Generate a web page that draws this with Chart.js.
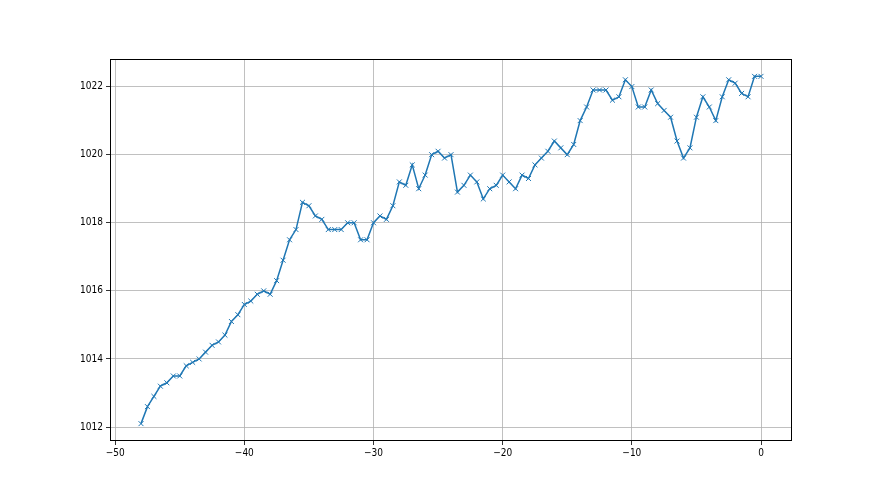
<!DOCTYPE html>
<html>
<head>
<meta charset="utf-8">
<script src="https://cdn.jsdelivr.net/npm/chart.js@4/dist/chart.umd.min.js"></script>
<style>
  html, body { margin: 0; padding: 0; background: #fff; }
  #canvas { display: block; }
</style>
</head>
<body>
<canvas id="canvas" width="880" height="495"></canvas>
<script>
// hours, step 0.5 from -48 to 0
var hours = [
  -48, -47.5, -47, -46.5, -46, -45.5, -45, -44.5, -44, -43.5,
  -43, -42.5, -42, -41.5, -41, -40.5, -40, -39.5, -39, -38.5,
  -38, -37.5, -37, -36.5, -36, -35.5, -35, -34.5, -34, -33.5,
  -33, -32.5, -32, -31.5, -31, -30.5, -30, -29.5, -29, -28.5,
  -28, -27.5, -27, -26.5, -26, -25.5, -25, -24.5, -24, -23.5,
  -23, -22.5, -22, -21.5, -21, -20.5, -20, -19.5, -19, -18.5,
  -18, -17.5, -17, -16.5, -16, -15.5, -15, -14.5, -14, -13.5,
  -13, -12.5, -12, -11.5, -11, -10.5, -10, -9.5, -9, -8.5,
  -8, -7.5, -7, -6.5, -6, -5.5, -5, -4.5, -4, -3.5,
  -3, -2.5, -2, -1.5, -1, -0.5, 0
];
var pressure = [
  1012.1, 1012.6, 1012.9, 1013.2, 1013.3, 1013.5, 1013.5, 1013.8, 1013.9, 1014.0,
  1014.2, 1014.4, 1014.5, 1014.7, 1015.1, 1015.3, 1015.6, 1015.7, 1015.9, 1016.0,
  1015.9, 1016.3, 1016.9, 1017.5, 1017.8, 1018.6, 1018.5, 1018.2, 1018.1, 1017.8,
  1017.8, 1017.8, 1018.0, 1018.0, 1017.5, 1017.5, 1018.0, 1018.2, 1018.1, 1018.5,
  1019.2, 1019.1, 1019.7, 1019.0, 1019.4, 1020.0, 1020.1, 1019.9, 1020.0, 1018.9,
  1019.1, 1019.4, 1019.2, 1018.7, 1019.0, 1019.1, 1019.4, 1019.2, 1019.0, 1019.4,
  1019.3, 1019.7, 1019.9, 1020.1, 1020.4, 1020.2, 1020.0, 1020.3, 1021.0, 1021.4,
  1021.9, 1021.9, 1021.9, 1021.6, 1021.7, 1022.2, 1022.0, 1021.4, 1021.4, 1021.9,
  1021.5, 1021.3, 1021.1, 1020.4, 1019.9, 1020.2, 1021.1, 1021.7, 1021.4, 1021.0,
  1021.7, 1022.2, 1022.1, 1021.8, 1021.7, 1022.3, 1022.3
];
var xTicks = [-50, -40, -30, -20, -10, 0];
var yTicks = [1012, 1014, 1016, 1018, 1020, 1022];

var points = hours.map(function(h, i) {
  return { x: h, y: pressure[i] };
});

function minus(v) {
  return String(v).replace("-", "\u2212");
}

var tickFont = { family: "'Liberation Sans Narrow', 'DejaVu Sans Condensed', sans-serif", size: 10 };

// box round the plot area, like matplotlib spines
var frame = {
  id: "frame",
  afterDraw: function(chart) {
    var a = chart.chartArea;
    var ctx = chart.ctx;
    ctx.save();
    ctx.strokeStyle = "#000";
    ctx.lineWidth = 1;
    ctx.strokeRect(a.left + 0.5, a.top + 0.5, a.right - a.left - 1, a.bottom - a.top - 1);
    ctx.restore();
  }
};

var config = {
  type: "line",
  data: {
    datasets: [
      {
        data: points,
        borderColor: "#1f77b4",
        backgroundColor: "#1f77b4",
        borderWidth: 1.5,
        tension: 0,
        fill: false,
        pointStyle: "crossRot",
        pointRadius: 3.5,
        pointBorderWidth: 1,
        pointHoverRadius: 3.5
      }
    ]
  },
  options: {
    responsive: false,
    animation: false,
    layout: { padding: { left: 0, right: 88, top: 59, bottom: 0 } },
    plugins: {
      legend: { display: false },
      tooltip: { enabled: false }
    },
    scales: {
      x: {
        type: "linear",
        min: -50.4,
        max: 2.4,
        afterBuildTicks: function(scale) {
          scale.ticks = xTicks.map(function(v) { return { value: v }; });
        },
        afterFit: function(scale) { scale.height = 54; },
        grid: { color: "#b0b0b0", lineWidth: 0.8, tickLength: 4, tickColor: "#000" },
        border: { display: false },
        ticks: {
          color: "#000",
          padding: 2,
          maxRotation: 0,
          font: tickFont,
          callback: function(v) { return minus(v); }
        }
      },
      y: {
        type: "linear",
        min: 1011.59,
        max: 1022.81,
        afterBuildTicks: function(scale) {
          scale.ticks = yTicks.map(function(v) { return { value: v }; });
        },
        afterFit: function(scale) { scale.width = 110; },
        grid: { color: "#b0b0b0", lineWidth: 0.8, tickLength: 4, tickColor: "#000" },
        border: { display: false },
        ticks: {
          color: "#000",
          padding: 3,
          font: tickFont,
          callback: function(v) { return String(v); }
        }
      }
    }
  },
  plugins: [frame]
};

window.onload = function() {
  var ctx = document.getElementById("canvas").getContext("2d");
  window.myLine = new Chart(ctx, config);
};
</script>
</body>
</html>
